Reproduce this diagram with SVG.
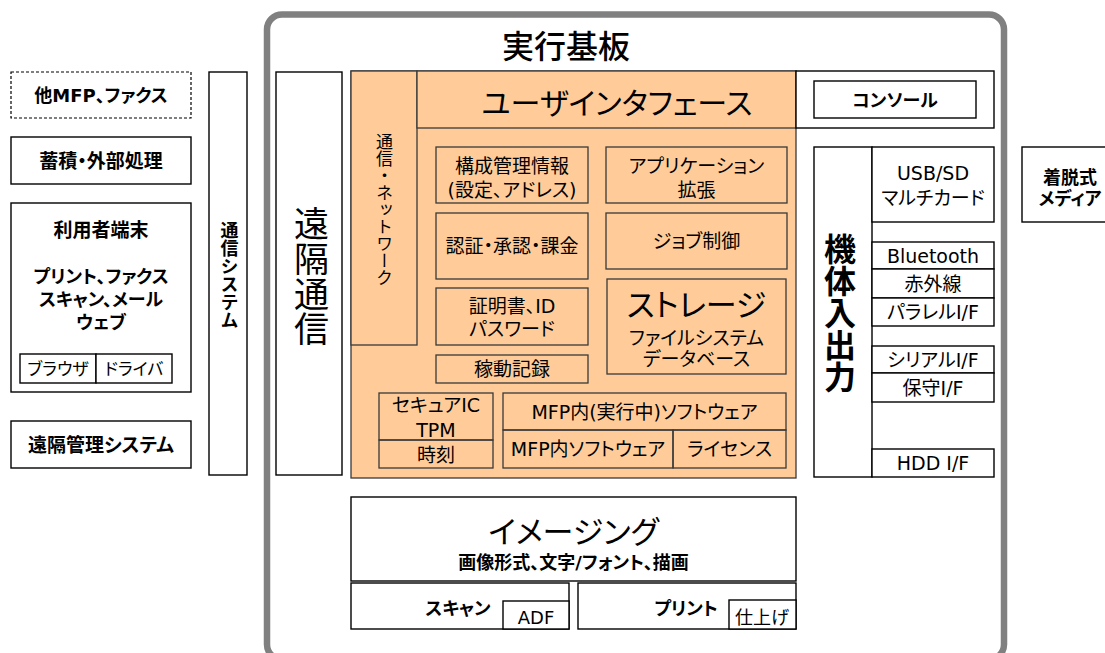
<svg xmlns="http://www.w3.org/2000/svg" width="1105" height="653" viewBox="0 0 1105 653">
<style>
text{font-family:"DejaVu Sans","Noto Sans CJK JP",sans-serif;fill:#000;text-anchor:middle;dominant-baseline:central;font-feature-settings:"palt";}
.b{font-weight:700;}
.m{font-weight:500;}
.v{writing-mode:vertical-rl;font-feature-settings:normal;}
.box{fill:#fff;stroke:#000;stroke-width:1.4;}
.dash{fill:#fff;stroke:#000;stroke-width:1.2;stroke-dasharray:3 2;}
.or{fill:#FFCC99;stroke:#3a3a3a;stroke-width:1.3;}
.ob{fill:none;stroke:#3a3a3a;stroke-width:1.3;}
.f17{font-size:17px;}
.f18{font-size:18px;}
.f19{font-size:19px;}
</style>
<rect width="1105" height="653" fill="#fff"/>
<g id="board">
<rect x="267" y="14.5" width="737" height="645" rx="15" fill="none" stroke="#808080" stroke-width="6.5"/>
<text x="566" y="47" class="m" font-size="32">実行基板</text>
</g>
<g id="other-mfp"><rect x="11" y="72" width="180" height="46" class="dash"/><text x="101" y="95" class="b f18">他MFP、ファクス</text></g>
<g id="storage-ext"><rect x="11" y="137" width="180" height="47" class="box"/><text x="101" y="160.5" class="b f19">蓄積・外部処理</text></g>
<g id="user-terminal"><rect x="11" y="203" width="180" height="189" class="box"/>
<text x="101" y="230" class="b f19">利用者端末</text>
<text x="101" y="276" class="b f18">プリント、ファクス</text>
<text x="101" y="299" class="b f18">スキャン、メール</text>
<text x="101" y="322" class="b f18">ウェブ</text>
</g>
<g id="browser"><rect x="20" y="354" width="76" height="29" class="box"/><text x="58" y="368.5" class="f17">ブラウザ</text></g>
<g id="driver"><rect x="96" y="354" width="76" height="29" class="box"/><text x="134" y="368.5" class="f17">ドライバ</text></g>
<g id="remote-mgmt"><rect x="11" y="421" width="180" height="47" class="box"/><text x="101" y="444.5" class="b f19">遠隔管理システム</text></g>
<g id="comm-system"><rect x="209" y="72" width="38" height="403" class="box"/><text x="228" y="275" class="b f18 v">通信システム</text></g>
<g id="remote-comm"><rect x="276" y="72" width="66" height="403" class="box"/><text x="308" y="276" class="v" font-size="35">遠隔通信</text></g>
<g id="core"><rect x="351" y="71" width="445" height="407" class="or"/></g>
<g id="network"><rect x="351" y="71" width="66" height="274" class="or"/><text x="383" y="210" class="f17 v">通信・ネットワーク</text></g>
<g id="ui"><rect x="417" y="71" width="379" height="57" class="or"/><text x="617" y="103" font-size="30">ユーザインタフェース</text></g>
<g id="console-area"><rect x="796" y="71" width="198" height="57" class="box"/></g>
<g id="console"><rect x="814" y="81" width="162" height="37" class="box"/><text x="895" y="100" class="b f18">コンソール</text></g>
<g id="config"><rect x="436" y="147" width="152" height="56" class="ob"/><text x="512" y="166" class="f19">構成管理情報</text><text x="512" y="190" class="f19">(設定、アドレス)</text></g>
<g id="app-ext"><rect x="606" y="147" width="181" height="56" class="ob"/><text x="696.5" y="166" class="f19">アプリケーション</text><text x="696.5" y="190" class="f19">拡張</text></g>
<g id="auth"><rect x="436" y="213" width="152" height="66" class="ob"/><text x="512" y="246" class="f19">認証・承認・課金</text></g>
<g id="job"><rect x="606" y="213" width="181" height="56" class="ob"/><text x="696.5" y="241" class="f19">ジョブ制御</text></g>
<g id="cert"><rect x="436" y="288" width="152" height="57" class="ob"/><text x="512" y="306" class="f19">証明書、ID</text><text x="512" y="329" class="f19">パスワード</text></g>
<g id="storage"><rect x="607" y="279" width="179" height="95" class="ob"/><text x="696.5" y="305" font-size="31">ストレージ</text><text x="696.5" y="338" class="f19">ファイルシステム</text><text x="696.5" y="359" class="f19">データベース</text></g>
<g id="log"><rect x="436" y="355" width="152" height="28" class="ob"/><text x="512" y="369" class="f19">稼動記録</text></g>
<g id="secure-ic"><rect x="379" y="393" width="114" height="47" class="ob"/><text x="436" y="405" class="f19">セキュアIC</text><text x="436" y="430" class="f19">TPM</text></g>
<g id="clock"><rect x="379" y="440" width="114" height="28" class="ob"/><text x="436" y="455" class="f19">時刻</text></g>
<g id="running-sw"><rect x="503" y="393" width="283" height="37" class="ob"/><text x="644.5" y="411.5" class="f19">MFP内(実行中)ソフトウェア</text></g>
<g id="sw"><rect x="503" y="430" width="170" height="38" class="ob"/><text x="588" y="449" class="f19">MFP内ソフトウェア</text></g>
<g id="license"><rect x="673" y="430" width="113" height="38" class="ob"/><text x="729.5" y="449" class="f19">ライセンス</text></g>
<g id="device-io"><rect x="814" y="147" width="58" height="330" class="box"/><text x="837" y="313" class="b v" font-size="32">機体入出力</text></g>
<g id="usb"><rect x="872" y="147" width="122" height="75" class="box"/><text x="933" y="173" class="f19">USB/SD</text><text x="933" y="198" class="f19">マルチカード</text></g>
<g id="bluetooth"><rect x="872" y="242" width="122" height="27" class="box"/><text x="933" y="255.5" class="f19">Bluetooth</text></g>
<g id="infrared"><rect x="872" y="269" width="122" height="29" class="box"/><text x="933" y="283.5" class="f19">赤外線</text></g>
<g id="parallel"><rect x="872" y="298" width="122" height="28" class="box"/><text x="933" y="312" class="f19">パラレルI/F</text></g>
<g id="serial"><rect x="872" y="346" width="122" height="27" class="box"/><text x="933" y="359.5" class="f19">シリアルI/F</text></g>
<g id="maint"><rect x="872" y="373" width="122" height="29" class="box"/><text x="933" y="387.5" class="f19">保守I/F</text></g>
<g id="hdd"><rect x="872" y="449" width="122" height="28" class="box"/><text x="933" y="463" class="f19">HDD I/F</text></g>
<g id="removable"><rect x="1022" y="147" width="95" height="75" class="box"/><text x="1070" y="177" class="b f18">着脱式</text><text x="1070" y="198" class="b f18">メディア</text></g>
<g id="imaging"><rect x="351" y="497" width="445" height="84" class="box"/><text x="573.5" y="532" font-size="31">イメージング</text><text x="573.5" y="562" class="b f18">画像形式、文字/フォント、描画</text></g>
<g id="scan"><rect x="351" y="583" width="218" height="46" class="box"/><text x="458" y="608" class="b f18">スキャン</text></g>
<g id="adf"><rect x="503" y="601" width="66" height="28" class="box"/><text x="536" y="617" class="f18">ADF</text></g>
<g id="print"><rect x="578" y="583" width="218" height="46" class="box"/><text x="686" y="608" class="b f18">プリント</text></g>
<g id="finisher"><rect x="729" y="600" width="67" height="29" class="box"/><text x="762" y="617" class="f18">仕上げ</text></g>
<g id="connectors"></g>
</svg>
